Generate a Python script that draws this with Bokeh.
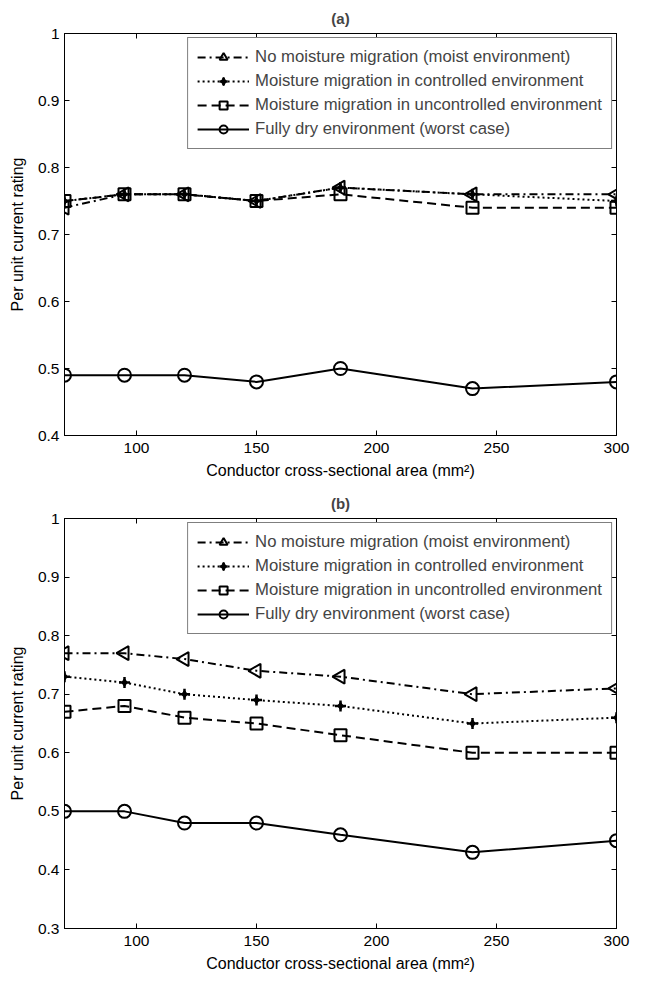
import math
from bokeh.plotting import figure
from bokeh.models import Range1d, FixedTicker, LinearAxis, Legend, LegendItem
from bokeh.layouts import column
from bokeh.embed import file_html
from bokeh.resources import INLINE

# ---------------- data ----------------
area = [70, 95, 120, 150, 185, 240, 300]

labels = [
    "No moisture migration (moist environment)",
    "Moisture migration in controlled environment",
    "Moisture migration in uncontrolled environment",
    "Fully dry environment (worst case)",
]

# panel (a)
a_no_migration = [0.74, 0.76, 0.76, 0.75, 0.77, 0.76, 0.76]
a_controlled = [0.75, 0.76, 0.76, 0.75, 0.77, 0.76, 0.75]
a_uncontrolled = [0.75, 0.76, 0.76, 0.75, 0.76, 0.74, 0.74]
a_dry = [0.49, 0.49, 0.49, 0.48, 0.50, 0.47, 0.48]

# panel (b)
b_no_migration = [0.77, 0.77, 0.76, 0.74, 0.73, 0.70, 0.71]
b_controlled = [0.73, 0.72, 0.70, 0.69, 0.68, 0.65, 0.66]
b_uncontrolled = [0.67, 0.68, 0.66, 0.65, 0.63, 0.60, 0.60]
b_dry = [0.50, 0.50, 0.48, 0.48, 0.46, 0.43, 0.45]

x_ticks = [100, 150, 200, 250, 300]
x_tick_labels = ["100", "150", "200", "250", "300"]
y_ticks_a = [0.4, 0.5, 0.6, 0.7, 0.8, 0.9, 1.0]
y_tick_labels_a = ["0.4", "0.5", "0.6", "0.7", "0.8", "0.9", "1"]
y_ticks_b = [0.3, 0.4, 0.5, 0.6, 0.7, 0.8, 0.9, 1.0]
y_tick_labels_b = ["0.3", "0.4", "0.5", "0.6", "0.7", "0.8", "0.9", "1"]

x_label = "Conductor cross-sectional area (mm\u00b2)"
y_label = "Per unit current rating"

FONT = "Liberation Sans"


def panel(title, series, y_lo, yt, ytl, frame_h, b_top, b_bottom):
    p = figure(frame_width=552, frame_height=frame_h,
               x_range=Range1d(70, 300), y_range=Range1d(y_lo, 1.0),
               output_backend="svg", toolbar_location=None,
               min_border_left=64, min_border_right=21,
               min_border_top=b_top, min_border_bottom=b_bottom,
               background_fill_color="white", border_fill_color="white")
    p.title.text = title
    p.title.align = "center"
    p.title.text_font = FONT
    p.title.text_font_size = "15px"
    p.title.text_font_style = "bold"
    p.title.standoff = 14
    p.xgrid.visible = False
    p.ygrid.visible = False
    p.outline_line_color = "black"
    p.outline_line_width = 1

    xo = {t: s for t, s in zip(x_ticks, x_tick_labels)}
    yo = {t: s for t, s in zip(yt, ytl)}

    for ax in p.xaxis:
        ax.ticker = FixedTicker(ticks=x_ticks)
        ax.major_label_overrides = xo
        ax.major_label_standoff = 7
        ax.axis_label_standoff = 6
    for ax in p.yaxis:
        ax.ticker = FixedTicker(ticks=yt)
        ax.major_label_overrides = yo
        ax.major_label_standoff = 5
        ax.axis_label_standoff = 9
    for ax in p.xaxis + p.yaxis:
        ax.major_tick_in = 5
        ax.major_tick_out = 0
        ax.minor_tick_line_color = None
        ax.axis_line_color = "black"
        ax.major_tick_line_color = "black"
        ax.major_label_text_font = FONT
        ax.major_label_text_font_size = "15.5px"
        ax.major_label_text_color = "black"
        ax.axis_label_text_font = FONT
        ax.axis_label_text_font_size = "16px"
        ax.axis_label_text_font_style = "normal"
        ax.axis_label_text_color = "black"
    p.xaxis.axis_label = x_label
    p.yaxis.axis_label = y_label

    # mirrored axes (ticks only) on top and right
    for loc, ticks in (("above", x_ticks), ("right", yt)):
        ax = LinearAxis(ticker=FixedTicker(ticks=ticks),
                        major_tick_in=5, major_tick_out=0,
                        minor_tick_line_color=None,
                        major_label_text_color=None,
                        major_label_text_font_size="1px",
                        major_label_standoff=0,
                        axis_line_color="black")
        p.add_layout(ax, loc)

    no_mig, ctrl, unctrl, dry = series
    lw = 2
    r1 = p.line(area, no_mig, line_color="black", line_width=lw, line_dash="8 4 2 4")
    m1 = p.scatter(area, no_mig, marker="triangle", angle=math.pi / 2, size=14,
                   line_color="black", line_width=2, fill_color=None)
    r2 = p.line(area, ctrl, line_color="black", line_width=lw, line_dash="2 3")
    m2a = p.scatter(area, ctrl, marker="cross", size=11, line_color="black", line_width=2.5)
    m2b = p.scatter(area, ctrl, marker="diamond", size=8, line_color="black",
                    fill_color="black", line_width=1)
    r3 = p.line(area, unctrl, line_color="black", line_width=lw, line_dash="9 5")
    m3 = p.scatter(area, unctrl, marker="square", size=12, line_color="black",
                   line_width=2, fill_color=None)
    r4 = p.line(area, dry, line_color="black", line_width=lw)
    m4 = p.scatter(area, dry, marker="circle", size=13, line_color="black",
                   line_width=2, fill_color=None)

    legend = Legend(items=[
        LegendItem(label=labels[0], renderers=[r1, m1]),
        LegendItem(label=labels[1], renderers=[r2, m2a, m2b]),
        LegendItem(label=labels[2], renderers=[r3, m3]),
        LegendItem(label=labels[3], renderers=[r4, m4]),
    ], location="top_right", margin=4, padding=9, spacing=4,
        glyph_width=52, glyph_height=20, label_height=20, label_standoff=6,
        label_text_font=FONT, label_text_font_size="16.7px",
        border_line_color="black", border_line_width=1,
        background_fill_color="white", background_fill_alpha=1.0)
    p.add_layout(legend)
    return p


pa = panel("(a)", (a_no_migration, a_controlled, a_uncontrolled, a_dry),
           0.4, y_ticks_a, y_tick_labels_a, 402, 30, 50)
pb = panel("(b)", (b_no_migration, b_controlled, b_uncontrolled, b_dry),
           0.3, y_ticks_b, y_tick_labels_b, 410, 32, 50)

layout = column(pa, pb, spacing=0)
open("out.html", "w").write(file_html(layout, INLINE))
